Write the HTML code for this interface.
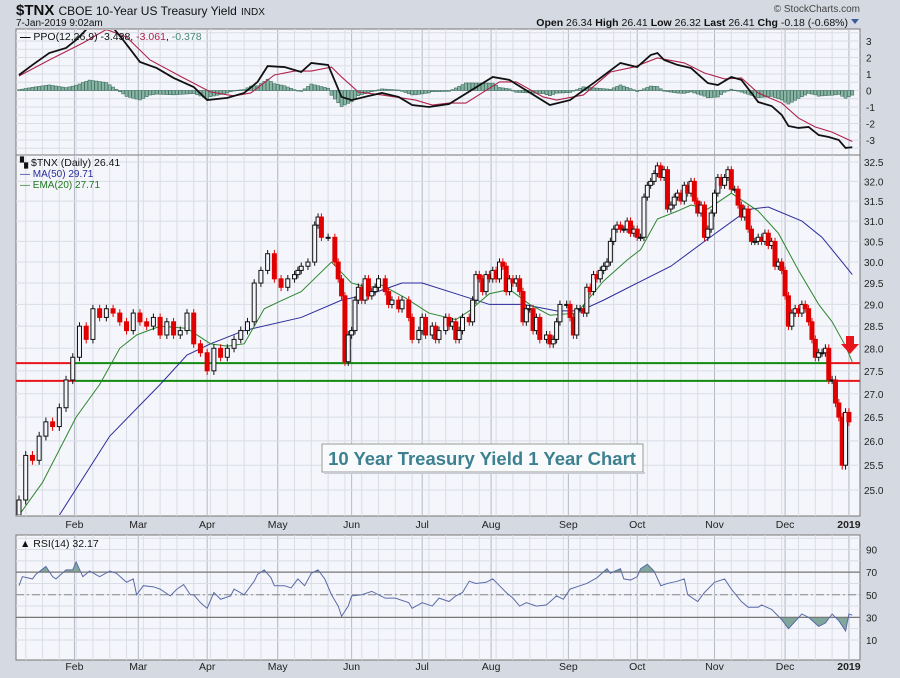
<!DOCTYPE html>
<html><head><meta charset="utf-8"><style>
body{margin:0;background:#d5d9e2;font-family:"Liberation Sans",sans-serif;}
svg text{font-family:"Liberation Sans",sans-serif;}
</style></head><body>
<svg id="c" width="900" height="673" viewBox="0 0 900 673" xmlns="http://www.w3.org/2000/svg">
<rect x="0" y="0" width="900" height="673" fill="#d5d9e2"/>
<text x="16" y="15" font-size="15" font-weight="bold" fill="#111">$TNX <tspan font-weight="normal" font-size="12">CBOE 10-Year US Treasury Yield</tspan> <tspan font-weight="normal" font-size="10">INDX</tspan></text>
<text x="16" y="26" font-size="10" fill="#111">7-Jan-2019 9:02am</text>
<text x="860" y="12" font-size="10" fill="#444" text-anchor="end">© StockCharts.com</text>
<text x="848" y="26" font-size="10.5" fill="#111" text-anchor="end"><tspan font-weight="bold">Open</tspan> 26.34 <tspan font-weight="bold">High</tspan> 26.41 <tspan font-weight="bold">Low</tspan> 26.32 <tspan font-weight="bold">Last</tspan> 26.41 <tspan font-weight="bold">Chg</tspan> -0.18 (-0.68%)</text>
<path d="M851 19 L859 19 L855 24 Z" fill="#3b5ba0"/>
<g id="g"></g>
</svg>
<script>
// ---------- DATA ----------
const candleDays=[0,2,4,6,8,10,12,14,16,18,20,22,24,26,28,30,32,34,36,38,40,42,44,46,48,50,52,54,56,58,60,62,64,66,68,70,72,74,76,78,80,82,83,84,86,88,89,90,92,94,95,96,97,98,99,100,101,102,103,104,105,106,107,109,110,111,113,114,116,117,119,120,121,123,124,125,127,128,129,130,131,132,134,135,136,137,138,139,140,141,142,143,144,145,146,147,148,149,150,151,152,153,154,155,157,158,159,160,161,163,164,165,166,167,168,169,170,171,172,173,174,175,176,177,178,179,180,181,182,183,184,185,186,187,188,189,190,191,192,193,194,195,196,197,198,199,200,201,202,203,204,205,206,207,208,209,210,211,212,213,214,215,216,217,218,219,220,221,222,223,224,225,226,227,228,229,230,231,232,233,234,235,236,237,238,239,240,241,242,243,244,245,246,247];
const closes=[24.8,25.7,25.6,26.1,26.4,26.3,26.7,27.3,27.8,28.5,28.2,28.9,28.7,28.9,28.8,28.6,28.4,28.8,28.6,28.5,28.7,28.3,28.6,28.3,28.4,28.8,28.1,27.9,27.5,28.0,27.8,28.0,28.2,28.4,28.6,29.5,29.8,30.2,29.6,29.4,29.6,29.7,29.8,29.9,30.0,30.9,31.1,30.6,30.6,30.0,29.6,29.2,27.7,28.3,28.4,29.1,29.4,29.1,29.6,29.2,29.3,29.4,29.6,29.3,29.0,29.1,28.9,29.1,28.7,28.2,28.4,28.7,28.3,28.5,28.2,28.4,28.7,28.5,28.6,28.2,28.4,28.7,28.6,29.1,29.7,29.6,29.3,29.7,29.6,29.8,29.6,30.0,29.9,29.3,29.6,29.5,29.6,29.3,28.6,28.9,28.9,28.4,28.7,28.2,28.3,28.1,28.2,28.6,29.0,29.0,28.7,28.3,28.9,28.9,28.8,29.4,29.3,29.7,29.6,29.8,29.9,30.0,30.5,30.8,30.9,30.8,30.8,31.0,30.7,30.8,30.6,30.6,31.6,31.9,32.0,32.2,32.4,32.1,32.3,31.3,31.4,31.6,31.7,31.5,31.9,31.7,32.0,31.5,31.2,31.4,30.6,30.8,31.2,31.7,32.1,31.9,32.1,32.3,31.8,31.8,31.4,31.1,31.3,30.8,30.5,30.5,30.6,30.5,30.7,30.4,30.5,29.9,30.0,29.8,29.2,28.5,28.8,28.9,28.8,29.0,28.9,28.6,28.2,27.8,27.9,27.9,28.0,27.3,27.3,26.8,26.5,25.5,26.6,26.4];
const maDays=[8,12,27,42,50,57,67,84,96,105,114,120,130,140,150,160,167,174,184,194,204,214,218,223,233,239,245,248];
const ma50=[24.2,24.5,26.1,27.2,27.85,28.1,28.4,28.7,29.1,29.25,29.5,29.5,29.25,29.0,29.0,28.85,28.85,29.1,29.5,29.9,30.5,31.1,31.3,31.35,31.0,30.6,30.0,29.7];
const emaDays=[0,7,17,24,30,35,42,50,57,62,67,73,77,84,93,99,104,108,115,122,130,134,140,146,152,158,166,174,181,185,190,196,200,205,212,220,226,232,238,242,246,248];
const ema20=[24.5,25.15,26.5,27.2,28.0,28.3,28.5,28.45,28.1,28.05,28.1,28.9,29.05,29.3,30.0,29.5,29.4,29.45,29.15,28.8,28.65,28.85,29.25,29.35,29.0,28.75,28.8,29.55,30.05,30.3,31.05,31.25,31.4,31.3,31.7,31.25,30.7,29.8,29.0,28.6,28.05,27.7];
const ppoDays=[0,4,9,14,17,21,26,31,36,41,46,52,56,62,67,71,74,79,84,87,92,93,96,99,104,108,113,117,122,126,128,141,146,158,164,171,179,184,188,190,192,196,200,205,208,212,215,218,220,224,227,229,232,235,238,241,244,246,248];
const ppo=[0.94,1.55,2.27,2.58,3.06,3.9,4.3,3.06,1.73,1.36,0.76,0.21,-0.58,-0.45,-0.15,0.52,1.48,1.42,1.12,1.67,1.55,1.06,-0.39,-0.58,-0.33,-0.15,-0.39,-0.88,-1.0,-0.88,-0.82,0.82,0.64,-0.88,-0.58,0.45,1.67,1.42,2.15,2.27,1.85,1.55,1.36,0.45,0.33,0.82,0.64,-0.15,-0.7,-0.94,-1.48,-2.15,-2.27,-2.21,-2.7,-2.82,-3.0,-3.48,-3.44];
const sigDays=[0,9,19,26,32,39,49,57,64,69,76,82,87,93,96,101,108,118,123,128,133,143,148,156,160,168,176,183,190,198,204,210,215,220,227,232,237,242,248];
const signal=[0.88,1.85,2.88,3.7,3.24,1.85,0.76,-0.09,-0.33,-0.15,0.94,1.18,1.18,1.42,0.82,-0.09,-0.27,-0.58,-0.88,-0.76,-0.76,0.52,0.52,-0.39,-0.58,-0.27,1.12,1.42,1.97,1.67,1.06,0.7,0.76,-0.15,-0.76,-1.67,-2.21,-2.52,-3.09];
const rsiDays=[0,1,4,5,8,10,11,14,16,17,19,21,24,27,29,32,34,35,37,40,42,45,47,49,51,52,54,56,58,60,63,64,67,70,71,73,75,76,79,81,83,85,87,89,91,93,95,96,98,99,102,105,109,112,116,117,120,123,125,128,130,132,134,136,139,141,143,145,147,149,151,154,157,160,162,164,167,169,172,175,176,179,180,182,184,185,187,189,191,193,196,198,199,202,204,207,210,212,215,217,220,221,224,227,229,233,235,238,240,242,244,246,247,248];
const rsi=[58,66,64,68,75,66,64,72,72,79,66,71,66,71,69,61,64,50,58,57,55,49,55,59,50,50,43,38,52,46,49,55,50,62,68,72,65,58,58,56,64,58,69,72,64,50,40,31,40,49,50,53,47,47,43,38,43,40,47,44,49,52,62,60,61,64,58,52,47,40,43,40,41,49,46,55,58,60,65,73,69,73,64,63,66,73,77,71,58,60,62,64,50,44,52,61,64,55,44,39,39,41,37,28,20,33,30,22,25,33,27,18,33,32];
const priceTicks=[25.0,25.5,26.0,26.5,27.0,27.5,28.0,28.5,29.0,29.5,30.0,30.5,31.0,31.5,32.0,32.5];
const ppoTicks=[3,2,1,0,-1,-2,-3];
const rsiTicks=[90,70,50,30,10];
const monthLabels=["Feb","Mar","Apr","May","Jun","Jul","Aug","Sep","Oct","Nov","Dec","2019"];
const monthDays=[16.5,35.5,56,77,99,120,140.5,163.5,184,207,228,247];
const supportLevels=[27.67,27.28];

// ---------- SCALES ----------
const X0=19,DX=3.36,L=16,R=860;
const xS=d=>X0+d*DX;
const pTop=155,pBot=516;
const yP=p=>162+(Math.log(32.5)-Math.log(p))*1250;
const yPPO=v=>90.5-v*16.5;
const yRSI=v=>651.3-v*1.131;
const NS="http://www.w3.org/2000/svg";
const G=document.getElementById('g');
function mk(tag,attrs,parent){const e=document.createElementNS(NS,tag);for(const k in attrs)e.setAttribute(k,attrs[k]);(parent||G).appendChild(e);return e;}
function interp(days,vals,d){if(d<=days[0])return vals[0];for(let i=1;i<days.length;i++){if(d<=days[i]){const t=(d-days[i-1])/(days[i]-days[i-1]);return vals[i-1]+t*(vals[i]-vals[i-1]);}}return vals[vals.length-1];}

function panel(name,y1,y2){
  const r=mk('rect',{x:L,y:y1,width:R-L,height:y2-y1,fill:'#f4f6fb',stroke:'#777','stroke-width':1});
  
  
  for(let d=2;d<=248;d+=5){const l=mk('line',{x1:xS(d),x2:xS(d),y1:y1,y2:y2,stroke:'#d9dde6','stroke-width':1});
    
    }
  monthDays.forEach(d=>{const l=mk('line',{x1:xS(d),x2:xS(d),y1:y1,y2:y2,stroke:'#b4b9c4','stroke-width':1});
    
    });
}
// ---------- PPO PANEL ----------
panel('ppo-panel',29,155);
for(let v=3.5;v>=-3.5;v-=0.5){const l=mk('line',{x1:L,x2:R,y1:yPPO(v),y2:yPPO(v),stroke:'#d9dde6'});
  
  }
ppoTicks.forEach(v=>{const t=mk('text',{x:866,y:yPPO(v)+4,'font-size':10,fill:'#222'});t.textContent=v;
  
  });
const clipP=mk('clipPath',{id:'cp'});mk('rect',{x:L,y:30,width:R-L,height:124},clipP);
const ppoG=mk('g',{'clip-path':'url(#cp)'});


for(let d=0;d<=248;d++){
  const h=(interp(ppoDays,ppo,d)-interp(sigDays,signal,d))*0.8;
  const y0=yPPO(0),y1=yPPO(h);
  const b=mk('rect',{x:xS(d)-1.5,y:Math.min(y0,y1),width:3,height:Math.max(0.5,Math.abs(y1-y0)),fill:'#8ab5a5',stroke:'#3f6e60','stroke-width':0.6},ppoG);
  
  
}
const sigL=mk('polyline',{points:sigDays.map((d,i)=>xS(d)+','+yPPO(signal[i])).join(' '),fill:'none',stroke:'#b0224a','stroke-width':1.1},ppoG);


const ppoL=mk('polyline',{points:ppoDays.map((d,i)=>xS(d)+','+yPPO(ppo[i])).join(' '),fill:'none',stroke:'#111','stroke-width':1.8},ppoG);


const ppoLeg=mk('text',{x:20,y:40,'font-size':10.5,fill:'#111'});
ppoLeg.innerHTML='<tspan font-weight="bold">—</tspan> PPO(12,26,9) -3.438, <tspan fill="#b0224a">-3.061</tspan>, <tspan fill="#4c8a78">-0.378</tspan>';



// ---------- PRICE PANEL ----------
panel('price-panel',pTop,pBot);
priceTicks.forEach(p=>{const l=mk('line',{x1:L,x2:R,y1:yP(p),y2:yP(p),stroke:'#d9dde6'});
  
  
  const t=mk('text',{x:864,y:yP(p)+4,'font-size':10,fill:'#222'});t.textContent=p.toFixed(1);
  
  });
const clipM=mk('clipPath',{id:'cm'});mk('rect',{x:L,y:pTop+1,width:R-L,height:pBot-pTop-2},clipM);
const mg=mk('g',{'clip-path':'url(#cm)'});


supportLevels.forEach(lv=>{
  const y=yP(lv);
  const a=mk('line',{x1:L,x2:75,y1:y,y2:y,stroke:'#e8141b','stroke-width':2},mg);
  
  
  const b=mk('line',{x1:75,x2:832,y1:y,y2:y,stroke:'#128a12','stroke-width':2},mg);
  
  
  const c=mk('line',{x1:832,x2:R,y1:y,y2:y,stroke:'#e8141b','stroke-width':2},mg);
  
  
});
const maL=mk('polyline',{points:maDays.map((d,i)=>xS(d)+','+yP(ma50[i])).join(' '),fill:'none',stroke:'#2a2a9a','stroke-width':1},mg);


const emL=mk('polyline',{points:emaDays.map((d,i)=>xS(d)+','+yP(ema20[i])).join(' '),fill:'none',stroke:'#2e862e','stroke-width':1},mg);


closes.forEach((c,i)=>{
  const o=i===0?24.5:closes[i-1];
  const up=c>=o, col=up?'#111':'#e00000';
  const x=xS(candleDays[i]);
  const hi=Math.max(o,c)+0.09, lo=Math.min(o,c)-0.09;
  const w=mk('line',{x1:x,x2:x,y1:yP(hi),y2:yP(lo),stroke:col,'stroke-width':1},mg);
  
  
  const yt=yP(Math.max(o,c)),yb=yP(Math.min(o,c));
  const b=mk('rect',{x:x-2,y:yt,width:4,height:Math.max(1,yb-yt),fill:up?'#f4f6fb':'#e00000',stroke:col,'stroke-width':1},mg);
  
  
});
const leg=mk('g',{});


const l1=mk('text',{x:20,y:166,'font-size':10.5,fill:'#111'},leg);l1.textContent='▚ $TNX (Daily) 26.41';


const l2=mk('text',{x:20,y:177,'font-size':10,fill:'#2a2a9a'},leg);l2.textContent='— MA(50) 29.71';


const l3=mk('text',{x:20,y:188,'font-size':10,fill:'#1f7a1f'},leg);l3.textContent='— EMA(20) 27.71';


const arrow=mk('path',{d:'M846 336 L854 336 L854 344 L859 344 L850 354 L841 344 L846 344 Z',fill:'#e8141b'});


const box=mk('rect',{x:322,y:444,width:321,height:28,fill:'#f9fafc',stroke:'#999','stroke-width':1});


mk('rect',{x:324,y:472,width:321,height:2,fill:'#c9ccd3'});
const at=mk('text',{x:482,y:465,'font-size':18.5,'font-weight':'bold',fill:'#3d8090','text-anchor':'middle'});
at.textContent='10 Year Treasury Yield 1 Year Chart';



function monthAxis(y,name){
  monthLabels.forEach((m,i)=>{const t=mk('text',{x:xS(monthDays[i]),y:y,'font-size':10.5,fill:'#222','text-anchor':'middle','font-weight':m==='2019'?'bold':'normal'});t.textContent=m;
    
    });
}
monthAxis(528,'price-x-tick-label');

// ---------- RSI PANEL ----------
panel('rsi-panel',535,660);
for(let v=10;v<=100;v+=10){const l=mk('line',{x1:L,x2:R,y1:yRSI(v),y2:yRSI(v),stroke:'#d9dde6'});
  
  }
rsiTicks.forEach(v=>{const t=mk('text',{x:866,y:yRSI(v)+4,'font-size':10,fill:'#222'});t.textContent=v;
  
  });
const rpts=rsiDays.map((d,i)=>[xS(d),yRSI(rsi[i])]);
const cTop=mk('clipPath',{id:'rt'});mk('rect',{x:L,y:535,width:R-L,height:yRSI(70)-535},cTop);
const cBot=mk('clipPath',{id:'rb'});mk('rect',{x:L,y:yRSI(30),width:R-L,height:660-yRSI(30)},cBot);
const ptsStr=rpts.map(p=>p.join(',')).join(' ');
const ob=mk('polygon',{points:xS(rsiDays[0])+','+yRSI(70)+' '+ptsStr+' '+xS(rsiDays[rsiDays.length-1])+','+yRSI(70),fill:'#7fa79b','clip-path':'url(#rt)'});


const os=mk('polygon',{points:xS(rsiDays[0])+','+yRSI(30)+' '+ptsStr+' '+xS(rsiDays[rsiDays.length-1])+','+yRSI(30),fill:'#7fa79b','clip-path':'url(#rb)'});


[70,30].forEach(v=>{const l=mk('line',{x1:L,x2:R,y1:yRSI(v),y2:yRSI(v),stroke:'#777','stroke-width':1.2});
  
  });
const mid=mk('line',{x1:L,x2:R,y1:yRSI(50),y2:yRSI(50),stroke:'#888','stroke-width':1,'stroke-dasharray':'8,3,2,3'});


const rl=mk('polyline',{points:ptsStr,fill:'none',stroke:'#5b6aa8','stroke-width':1});


const rleg=mk('text',{x:20,y:547,'font-size':10.5,fill:'#111'});rleg.textContent='▲ RSI(14) 32.17';


monthAxis(670,'rsi-x-tick-label');
</script>
</body></html>
